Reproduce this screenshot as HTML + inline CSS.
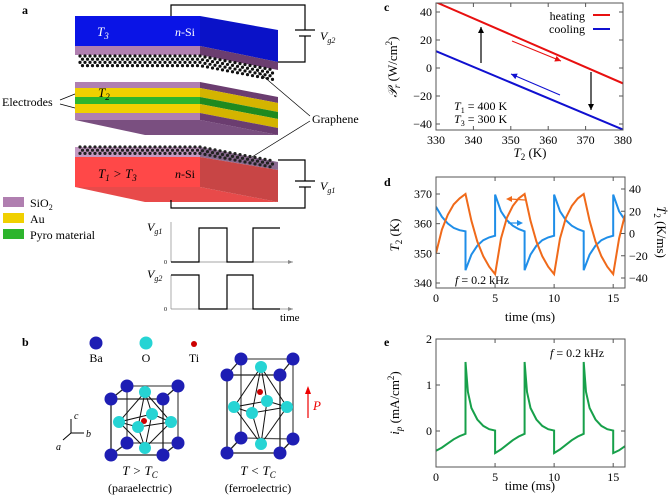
<!DOCTYPE html>
<html><head><meta charset="utf-8"><style>
body{margin:0;background:#fff}
svg{font-family:"Liberation Serif",serif;display:block}
.tk{font-size:12px}
.ax{font-size:13px;font-weight:normal}
</style></head><body>
<svg id="fig" width="668" height="495" viewBox="0 0 668 495" xmlns="http://www.w3.org/2000/svg">
<g>
<text x="22" y="14" font-weight="bold" font-size="12">a</text>
<g fill="none" stroke="#000" stroke-width="1.2">
<polyline points="171,16 171,5 305,5 305,30"/><polyline points="305,36 305,62 278,62"/>
<line x1="295" y1="30" x2="315" y2="30"/><line x1="299" y1="36" x2="311" y2="36"/>
</g>
<text x="320" y="40" font-size="12" font-style="italic">V<tspan font-size="8" dy="3">g2</tspan></text>
<g>
<rect x="75" y="16" width="125" height="30" fill="#0a14e6"/>
<rect x="75" y="46" width="125" height="9" fill="#b07fb0"/>
<polygon points="200,16 278,30 278,62 200,46" fill="#0a12c8"/>
<polygon points="200,46 278,62 278,70 200,55" fill="#6b3d70"/>
<text x="97" y="36" fill="#fff" font-size="13" font-style="italic">T<tspan font-size="9" dy="3">3</tspan></text>
<text x="175" y="36" fill="#fff" font-size="12"><tspan font-style="italic">n</tspan>-Si</text>
</g>
<g id="dotsTop" fill="#111"></g>
<g>
<polygon points="75,120 200,120 278,135 145,135" fill="#7a4f80"/>
<rect x="75" y="82" width="125" height="6" fill="#b07fb0"/>
<rect x="75" y="88" width="125" height="9" fill="#f0d000"/>
<rect x="75" y="97" width="125" height="7" fill="#2db52d"/>
<rect x="75" y="104" width="125" height="9" fill="#f0d000"/>
<rect x="75" y="113" width="125" height="7" fill="#b07fb0"/>
<polygon points="200,82 278,97 278,103 200,88" fill="#6b3d70"/>
<polygon points="200,88 278,103 278,112 200,97" fill="#d4b400"/>
<polygon points="200,97 278,112 278,119 200,104" fill="#1f8a1f"/>
<polygon points="200,104 278,119 278,128 200,113" fill="#d4b400"/>
<polygon points="200,113 278,128 278,135 200,120" fill="#6b3d70"/>
<text x="98" y="97" font-size="13" font-style="italic">T<tspan font-size="9" dy="3">2</tspan></text>
</g>
<g>
<polygon points="75,187 200,187 278,202 145,202" fill="#e84a4a"/>
<rect x="75" y="147" width="125" height="10" fill="#c49ac4"/>
<rect x="75" y="157" width="125" height="30" fill="#ff4848"/>
<polygon points="200,147 278,162 278,170 200,157" fill="#8a6a90"/>
<polygon points="200,157 278,170 278,202 200,187" fill="#c84545"/>
<text x="98" y="178" font-size="13" font-style="italic">T<tspan font-size="9" dy="3">1</tspan><tspan dy="-3"> &gt; T</tspan><tspan font-size="9" dy="3">3</tspan></text>
<text x="175" y="178" font-size="12"><tspan font-style="italic">n</tspan>-Si</text>
</g>
<g id="dotsBot" fill="#222"></g>
<g fill="none" stroke="#000" stroke-width="1.2">
<polyline points="278,160 305,160 305,181"/><polyline points="305,187 305,208 171,208 171,200"/>
<line x1="295" y1="181" x2="315" y2="181"/><line x1="299" y1="187" x2="311" y2="187"/>
</g>
<text x="320" y="190" font-size="12" font-style="italic">V<tspan font-size="8" dy="3">g1</tspan></text>
<g stroke="#000" stroke-width="0.7">
<line x1="256" y1="70" x2="310" y2="116"/><line x1="252" y1="157" x2="310" y2="121"/>
<line x1="60" y1="100" x2="75" y2="94"/><line x1="60" y1="104" x2="75" y2="108"/>
</g>
<text x="312" y="123" font-size="12">Graphene</text>
<text x="2" y="106" font-size="12">Electrodes</text>
<g font-size="12">
<rect x="3" y="197" width="21" height="10" fill="#b07fb0"/><text x="30" y="207">SiO<tspan font-size="8" dy="3">2</tspan></text>
<rect x="3" y="213" width="21" height="10" fill="#f0d000"/><text x="30" y="223">Au</text>
<rect x="3" y="229" width="21" height="10" fill="#2db52d"/><text x="30" y="239">Pyro material</text>
</g>
<g fill="none" stroke="#000">
<line x1="171" y1="222" x2="171" y2="262" stroke="#888" stroke-width="0.7"/>
<line x1="171" y1="262" x2="293" y2="262" stroke="#888" stroke-width="0.7"/>
<line x1="171" y1="275" x2="171" y2="309" stroke="#888" stroke-width="0.7"/>
<line x1="171" y1="309" x2="293" y2="309" stroke="#888" stroke-width="0.7"/>
<polyline stroke-width="1.2" points="171,262 199,262 199,228 227,228 227,262 253,262 253,228 280,228"/>
<polyline stroke-width="1.2" points="171,275 199,275 199,309 227,309 227,275 253,275 253,309 280,309"/>
</g>
<g font-size="12">
<text x="147" y="231" font-style="italic">V<tspan font-size="8" dy="3">g1</tspan></text>
<text x="147" y="278" font-style="italic">V<tspan font-size="8" dy="3">g2</tspan></text>
<text x="164" y="264" font-size="6">0</text><text x="164" y="311" font-size="6">0</text>
<text x="280" y="321" font-size="11">time</text>
<polygon points="293,262 288,260 288,264" fill="#888"/><polygon points="293,309 288,307 288,311" fill="#888"/>
</g>
</g>
<g>
<text x="22" y="346" font-weight="bold" font-size="12">b</text>
<circle cx="96" cy="343" r="6.5" fill="#1e1eb4"/><circle cx="146" cy="343" r="6.5" fill="#26d4d4"/><circle cx="194" cy="344" r="3" fill="#cc0000"/>
<text x="96" y="362" font-size="12" text-anchor="middle">Ba</text><text x="146" y="362" font-size="12" text-anchor="middle">O</text><text x="194" y="362" font-size="12" text-anchor="middle">Ti</text>
<g id="crystals"></g>
<g stroke="#000" stroke-width="1">
<line x1="71" y1="433" x2="71" y2="419"/><line x1="71" y1="433" x2="84" y2="433"/><line x1="71" y1="433" x2="63" y2="440"/>
</g>
<text x="74" y="419" font-size="10" font-style="italic">c</text><text x="86" y="437" font-size="10" font-style="italic">b</text><text x="56" y="450" font-size="10" font-style="italic">a</text>
<line x1="308" y1="418" x2="308" y2="392" stroke="#e00" stroke-width="1.2"/><polygon points="308,386 305,394 311,394" fill="#e00"/>
<text x="313" y="410" fill="#e00" font-size="13" font-style="italic">P</text>
<text x="140" y="475" font-size="13" text-anchor="middle" font-style="italic">T &gt; T<tspan font-size="9" dy="3">C</tspan></text>
<text x="140" y="492" font-size="12" text-anchor="middle">(paraelectric)</text>
<text x="258" y="475" font-size="13" text-anchor="middle" font-style="italic">T &lt; T<tspan font-size="9" dy="3">C</tspan></text>
<text x="258" y="492" font-size="12" text-anchor="middle">(ferroelectric)</text>
</g>
<g id="charts"></g>
</svg>
<script>
// panel c
const cT2 = [330, 380];
const cHeating = [47, -11];
const cCooling = [12, -44];
const cXTicks = [330, 340, 350, 360, 370, 380];
const cYTicks = [-40, -20, 0, 20, 40];
// panel d
const dTime = [0,0.5,1,1.5,2,2.5,3,3.5,4,4.5,5,5.5,6,6.5,7,7.5,8,8.5,9,9.5,10,10.5,11,11.5,12,12.5,13,13.5,14,14.5,15,15.5,16];
const dT2 = [350,358,363,366.5,368.5,370,361,354,349,345.5,343,355,362,366,368.5,370,361,354,349,345.5,343,355,362,366,368.5,370,361,354,349,345.5,343,355,363];
const dRateTime = [0,0.5,1,1.5,2,2.5,2.5,3,3.5,4,4.5,5,5,5.5,6,6.5,7,7.5,7.5,8,8.5,9,9.5,10,10,10.5,11,11.5,12,12.5,12.5,13,13.5,14,14.5,15,15,15.5,16];
const dRate = [24,15,9,5,3,2,-33,-19,-11,-6,-3.5,-2,35,20,12,7,4,2,-33,-19,-11,-6,-3.5,-2,35,20,12,7,4,2,-33,-19,-11,-6,-3.5,-2,35,20,12];
const dXTicks = [0,5,10,15];
const dYTicks = [340,350,360,370];
const dY2Ticks = [-40,-20,0,20,40];
// panel e
const eTime = [0,0.5,1,1.5,2,2.5,2.5,2.7,3,3.5,4,4.5,5,5,5.5,6,6.5,7,7.5,7.5,7.7,8,8.5,9,9.5,10,10,10.5,11,11.5,12,12.5,12.5,12.7,13,13.5,14,14.5,15,15,15.5,16];
const eCurrent = [-0.43,-0.36,-0.27,-0.18,-0.11,-0.06,1.5,0.85,0.5,0.25,0.11,0.04,0.01,-0.48,-0.4,-0.3,-0.2,-0.12,-0.06,1.5,0.85,0.5,0.25,0.11,0.04,0.01,-0.48,-0.4,-0.3,-0.2,-0.12,-0.06,1.5,0.85,0.5,0.25,0.11,0.04,0.01,-0.48,-0.42,-0.33];
const eYTicks = [0,1,2];

const NS='http://www.w3.org/2000/svg';
const charts=document.getElementById('charts');
function mk(tag,attrs,parent,text){const e=document.createElementNS(NS,tag);for(const k in attrs)e.setAttribute(k,attrs[k]);if(text!==undefined)e.textContent=text;(parent||charts).appendChild(e);return e;}
function lin(d0,d1,r0,r1){return v=>r0+(v-d0)/(d1-d0)*(r1-r0);}
function box(g,x0,y0,x1,y1){const r=mk('rect',{x:x0,y:y0,width:x1-x0,height:y1-y0,fill:'none',stroke:'#555','stroke-width':1},g);}
function path(g,xs,ys,X,Y,color,name){let d='';xs.forEach((t,i)=>{d+=(i?'L':'M')+X(t).toFixed(1)+','+Y(ys[i]).toFixed(1);});const p=mk('path',{d:d,fill:'none',stroke:color,'stroke-width':2},g);return p;}
function xticks(g,ticks,X,y0,y1){ticks.forEach(t=>{mk('line',{x1:X(t),x2:X(t),y1:y1,y2:y1-4,stroke:'#555'},g);mk('line',{x1:X(t),x2:X(t),y1:y0,y2:y0+4,stroke:'#555'},g);const tx=mk('text',{x:X(t),y:y1+14,'text-anchor':'middle',class:'tk'},g,String(t).replace('-','\u2212'));});}
function yticks(g,ticks,Y,x0,x1){ticks.forEach(t=>{mk('line',{x1:x0,x2:x0+4,y1:Y(t),y2:Y(t),stroke:'#555'},g);mk('line',{x1:x1,x2:x1-4,y1:Y(t),y2:Y(t),stroke:'#555'},g);const tx=mk('text',{x:x0-4,y:Y(t)+4,'text-anchor':'end',class:'tk'},g,String(t).replace('-','\u2212'));});}
function clip(id,x0,y0,x1,y1){const c=mk('clipPath',{id:id});mk('rect',{x:x0,y:y0,width:x1-x0,height:y1-y0},c);}

{const g=mk('g',{});
const X=lin(330,380,436,623),Y=lin(0,40,68,12);
clip('cc',436,3,623,130);
const lg=mk('g',{'clip-path':'url(#cc)'},g);
path(lg,cT2,cHeating,X,Y,'#e81010','heating-line');
path(lg,cT2,cCooling,X,Y,'#1010d0','cooling-line');
box(g,436,3,623,130);xticks(g,cXTicks,X,3,130);yticks(g,cYTicks,Y,436,623);
mk('text',{x:384,y:11,'font-weight':'bold','font-size':12},g,'c');
const yl=mk('text',{transform:'translate(397,67) rotate(-90)','text-anchor':'middle',class:'ax'},g);yl.innerHTML='<tspan font-style="italic">𝒫</tspan><tspan font-size="9" dy="3" font-style="italic">r</tspan><tspan dy="-3"> (W/cm</tspan><tspan font-size="9" dy="-5">2</tspan><tspan dy="5">)</tspan>';

const xl=mk('text',{x:530,y:157,'text-anchor':'middle',class:'ax'},g);xl.innerHTML='<tspan font-style="italic">T</tspan><tspan font-size="9" dy="3">2</tspan><tspan dy="-3"> (K)</tspan>';

const lg2=mk('g',{},g);
mk('text',{x:585,y:20,'text-anchor':'end','font-size':12},lg2,'heating');mk('line',{x1:593,x2:610,y1:15,y2:15,stroke:'#e81010','stroke-width':2},lg2);
mk('text',{x:585,y:33,'text-anchor':'end','font-size':12},lg2,'cooling');mk('line',{x1:593,x2:610,y1:29,y2:29,stroke:'#1010d0','stroke-width':2},lg2);
const t1=mk('text',{x:454,y:110,'font-size':12},g);t1.innerHTML='<tspan font-style="italic">T</tspan><tspan font-size="8" dy="3">1</tspan><tspan dy="-3"> = 400 K</tspan>';
const t3=mk('text',{x:454,y:123,'font-size':12},g);t3.innerHTML='<tspan font-style="italic">T</tspan><tspan font-size="8" dy="3">3</tspan><tspan dy="-3"> = 300 K</tspan>';
function arrow(x1,y1,x2,y2,c,w){mk('line',{x1:x1,y1:y1,x2:x2,y2:y2,stroke:c,'stroke-width':w},g);const a=Math.atan2(y2-y1,x2-x1),L=6;mk('polygon',{points:`${x2},${y2} ${x2-L*Math.cos(a)+3*Math.sin(a)},${y2-L*Math.sin(a)-3*Math.cos(a)} ${x2-L*Math.cos(a)-3*Math.sin(a)},${y2-L*Math.sin(a)+3*Math.cos(a)}`,fill:c},g);}
arrow(481,63,481,27,'#000',1.2);arrow(591,72,591,110,'#000',1.2);arrow(512,41,561,61,'#e81010',1);arrow(560,95,511,74,'#1010d0',1);
}
{const g=mk('g',{});
const X=lin(0,16,436,625),Y=lin(340,370,283,194),Y2=lin(0,40,233.5,189);
clip('cd',436,177,625,288);
const lg=mk('g',{'clip-path':'url(#cd)'},g);
path(lg,dRateTime,dRate,X,Y2,'#1f8ee8','rate-line');
path(lg,dTime,dT2,X,Y,'#f06a1a','t2-line');
box(g,436,177,625,288);xticks(g,dXTicks,X,177,288);
dYTicks.forEach(t=>{mk('line',{x1:436,x2:440,y1:Y(t),y2:Y(t),stroke:'#555'},g);const tx=mk('text',{x:432,y:Y(t)+4,'text-anchor':'end',class:'tk'},g,String(t));});
dY2Ticks.forEach(t=>{mk('line',{x1:625,x2:621,y1:Y2(t),y2:Y2(t),stroke:'#555'},g);const tx=mk('text',{x:629,y:Y2(t)+4,class:'tk'},g,String(t).replace('-','\u2212'));});
mk('text',{x:384,y:186,'font-weight':'bold','font-size':12},g,'d');
const yl=mk('text',{transform:'translate(399,235) rotate(-90)','text-anchor':'middle',class:'ax'},g);yl.innerHTML='<tspan font-style="italic">T</tspan><tspan font-size="9" dy="3">2</tspan><tspan dy="-3"> (K)</tspan>';

const y2=mk('text',{transform:'translate(657,232) rotate(90)','text-anchor':'middle',class:'ax'},g);y2.innerHTML='<tspan font-style="italic">Ṫ</tspan><tspan font-size="9" dy="3">2</tspan><tspan dy="-3"> (K/ms)</tspan>';

const xt=mk('text',{x:530,y:321,'text-anchor':'middle',class:'ax'},g,'time (ms)');
const f=mk('text',{x:455,y:284,'font-size':12},g);f.innerHTML='<tspan font-style="italic">f</tspan> = 0.2 kHz';
mk('line',{x1:525,y1:200,x2:510,y2:199,stroke:'#f06a1a','stroke-width':1.2},g);mk('polygon',{points:'506,199 512,196 512,202',fill:'#f06a1a'},g);
mk('line',{x1:508,y1:223,x2:519,y2:223,stroke:'#1f8ee8','stroke-width':1.2},g);mk('polygon',{points:'523,223 517,220 517,226',fill:'#1f8ee8'},g);
}
{const g=mk('g',{});
const X=lin(0,16,436,625),Y=lin(0,2,431,339);
clip('ce',436,339,625,467);
const lg=mk('g',{'clip-path':'url(#ce)'},g);
path(lg,eTime,eCurrent,X,Y,'#17a04a','current-line');
box(g,436,339,625,467);xticks(g,dXTicks,X,339,467);yticks(g,eYTicks,Y,436,625);
mk('text',{x:384,y:346,'font-weight':'bold','font-size':12},g,'e');
const yl=mk('text',{transform:'translate(399,403) rotate(-90)','text-anchor':'middle',class:'ax'},g);yl.innerHTML='<tspan font-style="italic">i</tspan><tspan font-size="9" dy="3" font-style="italic">p</tspan><tspan dy="-3"> (mA/cm</tspan><tspan font-size="9" dy="-5">2</tspan><tspan dy="5">)</tspan>';

const xt=mk('text',{x:530,y:490,'text-anchor':'middle',class:'ax'},g,'time (ms)');
const f=mk('text',{x:550,y:357,'font-size':12},g);f.innerHTML='<tspan font-style="italic">f</tspan> = 0.2 kHz';
}
function dots(id,x0,x1,yA,rows,slope){const g=document.getElementById(id);for(let r=0;r<rows;r++){for(let x=x0+(r%2)*2.5;x<x1;x+=5){const dy=x>200?(x-200)*slope:0;const c=document.createElementNS(NS,'circle');c.setAttribute('cx',x);c.setAttribute('cy',yA+r*3.2+dy);c.setAttribute('r',1.6);g.appendChild(c);}}}
dots('dotsTop',80,275,56,4,0.19);dots('dotsBot',80,275,147,3,0.19);
function crystal(tb,tf,bb,bf,O,Ti){const g=mk('g',{},document.getElementById('crystals'));
const L=(a,b,c,w)=>mk('line',{x1:a[0],y1:a[1],x2:b[0],y2:b[1],stroke:c||'#222','stroke-width':w||1.3},g);
[[tb[0],tb[1]],[tb[1],bb[1]],[bb[1],bb[0]],[bb[0],tb[0]]].forEach(p=>L(p[0],p[1],'#555'));
[[tb[0],tf[0]],[tb[1],tf[1]],[bb[0],bf[0]],[bb[1],bf[1]]].forEach(p=>L(p[0],p[1]));
[[tf[0],tf[1]],[tf[1],bf[1]],[bf[1],bf[0]],[bf[0],tf[0]]].forEach(p=>L(p[0],p[1]));
const [top,bot,l,r,b,f]=O;[l,b,r,f].forEach(p=>{L(top,p,'#111',1);L(bot,p,'#111',1);});L(l,b,'#111',1);L(b,r,'#111',1);L(r,f,'#111',1);L(f,l,'#111',1);
tb.concat(bb).forEach(p=>mk('circle',{cx:p[0],cy:p[1],r:6.5,fill:'#1e1eb4'},g));
[top,b,l,r].forEach(p=>mk('circle',{cx:p[0],cy:p[1],r:6,fill:'#26d4d4'},g));
mk('circle',{cx:Ti[0],cy:Ti[1],r:3,fill:'#cc0000'},g);
[f,bot].forEach(p=>mk('circle',{cx:p[0],cy:p[1],r:6,fill:'#26d4d4'},g));
tf.concat(bf).forEach(p=>mk('circle',{cx:p[0],cy:p[1],r:6.5,fill:'#1e1eb4'},g));}
crystal([[127,386],[178,386]],[[111,399],[163,399]],[[127,443],[178,443]],[[111,455],[163,455]],[[145,392],[145,448],[119,422],[171,422],[152,414],[138,427]],[144,421]);
crystal([[241,359],[293,359]],[[227,375],[280,375]],[[241,438],[293,439]],[[227,453],[280,453]],[[261,367],[261,444],[234,407],[287,407],[267,401],[252,413]],[260,392]);
</script>
</body></html>
